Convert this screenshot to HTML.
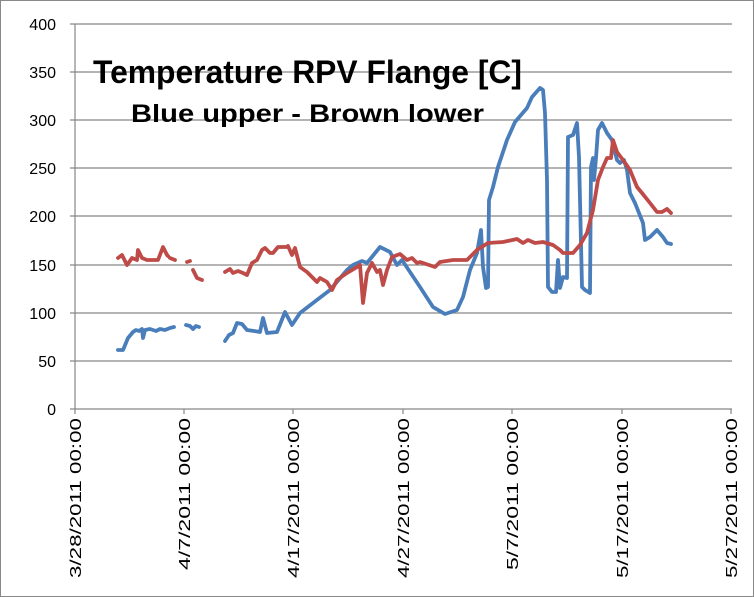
<!DOCTYPE html>
<html><head><style>body{margin:0;background:#fff}svg{display:block}</style></head><body>
<svg width="754" height="597" xmlns="http://www.w3.org/2000/svg" font-family="'Liberation Sans', sans-serif">
<rect x="0.5" y="0.5" width="753" height="596" fill="#fff" stroke="#888"/>
<g stroke="#868686" stroke-width="1.2">
<line x1="75" y1="24" x2="732" y2="24"/><line x1="75" y1="72" x2="732" y2="72"/><line x1="75" y1="120" x2="732" y2="120"/><line x1="75" y1="168" x2="732" y2="168"/><line x1="75" y1="216" x2="732" y2="216"/><line x1="75" y1="265" x2="732" y2="265"/><line x1="75" y1="313" x2="732" y2="313"/><line x1="75" y1="361" x2="732" y2="361"/><line x1="75" y1="409" x2="732" y2="409"/>
<line x1="75" y1="24" x2="75" y2="409"/>
<line x1="70" y1="24" x2="75" y2="24"/><line x1="70" y1="72" x2="75" y2="72"/><line x1="70" y1="120" x2="75" y2="120"/><line x1="70" y1="168" x2="75" y2="168"/><line x1="70" y1="216" x2="75" y2="216"/><line x1="70" y1="265" x2="75" y2="265"/><line x1="70" y1="313" x2="75" y2="313"/><line x1="70" y1="361" x2="75" y2="361"/><line x1="70" y1="409" x2="75" y2="409"/>
<line x1="75" y1="409" x2="75" y2="414"/><line x1="184" y1="409" x2="184" y2="414"/><line x1="293" y1="409" x2="293" y2="414"/><line x1="403" y1="409" x2="403" y2="414"/><line x1="512" y1="409" x2="512" y2="414"/><line x1="622" y1="409" x2="622" y2="414"/><line x1="731" y1="409" x2="731" y2="414"/>
</g>
<g font-size="16" fill="#000" text-anchor="end">
<text x="56" y="30">400</text><text x="56" y="78">350</text><text x="56" y="126">300</text><text x="56" y="174">250</text><text x="56" y="222">200</text><text x="56" y="271">150</text><text x="56" y="319">100</text><text x="56" y="367">50</text><text x="56" y="415">0</text>
</g>
<g font-size="16" fill="#000" text-anchor="end">
<text transform="translate(81,418) rotate(-90)" textLength="160" lengthAdjust="spacingAndGlyphs">3/28/2011 00:00</text>
<text transform="translate(190,418) rotate(-90)" textLength="152" lengthAdjust="spacingAndGlyphs">4/7/2011 00:00</text>
<text transform="translate(299,418) rotate(-90)" textLength="160" lengthAdjust="spacingAndGlyphs">4/17/2011 00:00</text>
<text transform="translate(409,418) rotate(-90)" textLength="160" lengthAdjust="spacingAndGlyphs">4/27/2011 00:00</text>
<text transform="translate(518,418) rotate(-90)" textLength="152" lengthAdjust="spacingAndGlyphs">5/7/2011 00:00</text>
<text transform="translate(628,418) rotate(-90)" textLength="160" lengthAdjust="spacingAndGlyphs">5/17/2011 00:00</text>
<text transform="translate(737,418) rotate(-90)" textLength="160" lengthAdjust="spacingAndGlyphs">5/27/2011 00:00</text>
</g>
<g fill="none" stroke-width="3.8" stroke-linejoin="round" stroke-linecap="round">
<g stroke="#4a7ebb">
<polyline points="118,350 123,350 128,338 133,332 136,330 139,331 142,329 143,338 145,330 150,329 156,331 160,329 165,330 170,328 174,327"/>
<polyline points="186,325 190,326 193,329 196,326 199,327"/>
<polyline points="225,341 229,335 233,333 237,323 242,324 247,330 254,331 260,332 263,318 267,333 277,332 285,312 292,325 300,313 313,303 330,290 347,270 353,265 362,261 367,263 380,247 390,252 397,265 402,260 410,272 420,287 433,307 445,314 457,310 463,297 470,270 477,253 481,230 483,267 486,288 488,287 489,200 493,187 498,167 507,140 515,122 527,108 532,97 540,88 543,90 545,113 547,180 548,287 552,292 556,292 558,260 560,288 563,277 567,278 568,137 573,135 577,123 579,157 582,287 585,290 590,293 591,167 593,158 594,180 596,158 598,130 602,123 607,133 612,140 617,160 620,163 624,160 627,170 630,193 635,203 643,223 645,240 650,237 657,230 663,237 667,243 671,244"/>
</g>
<g stroke="#be4b48">
<polyline points="118,258 122,255 127,265 132,258 137,260 138,250 142,258 147,260 158,260 163,247 167,255 168,256"/>
<polyline points="170,258 175,260"/>
<polyline points="187,262 190,261"/>
<polyline points="193,270 197,278 202,280"/>
<polyline points="225,272 230,269 233,273 238,271 243,273 247,275 252,263 257,260 262,250 265,248 270,253 273,253 278,247 287,247 288,246 292,255 295,248 300,267 307,272 313,278 317,282 320,278 327,282 332,290 337,280 347,273 357,267 360,265 363,303 367,273 372,263 377,272 380,270 383,285 387,270 392,257 400,254 407,260 412,258 417,263 420,262 435,267 440,262 453,260 467,260 477,250 488,243 503,242 517,239 523,243 528,240 535,243 543,242 553,245 560,250 563,253 573,253 580,245 587,233 593,210 598,180 603,167 607,158 611,158 613,140 617,152 623,160 630,170 637,187 642,193 650,203 657,212 662,212 667,209 671,213"/>
</g>
</g>
<text x="93" y="83" font-size="32" font-weight="bold" textLength="429" lengthAdjust="spacingAndGlyphs">Temperature RPV Flange [C]</text>
<text x="131" y="122" font-size="25" font-weight="bold" textLength="353" lengthAdjust="spacingAndGlyphs">Blue upper - Brown lower</text>
</svg>
</body></html>
